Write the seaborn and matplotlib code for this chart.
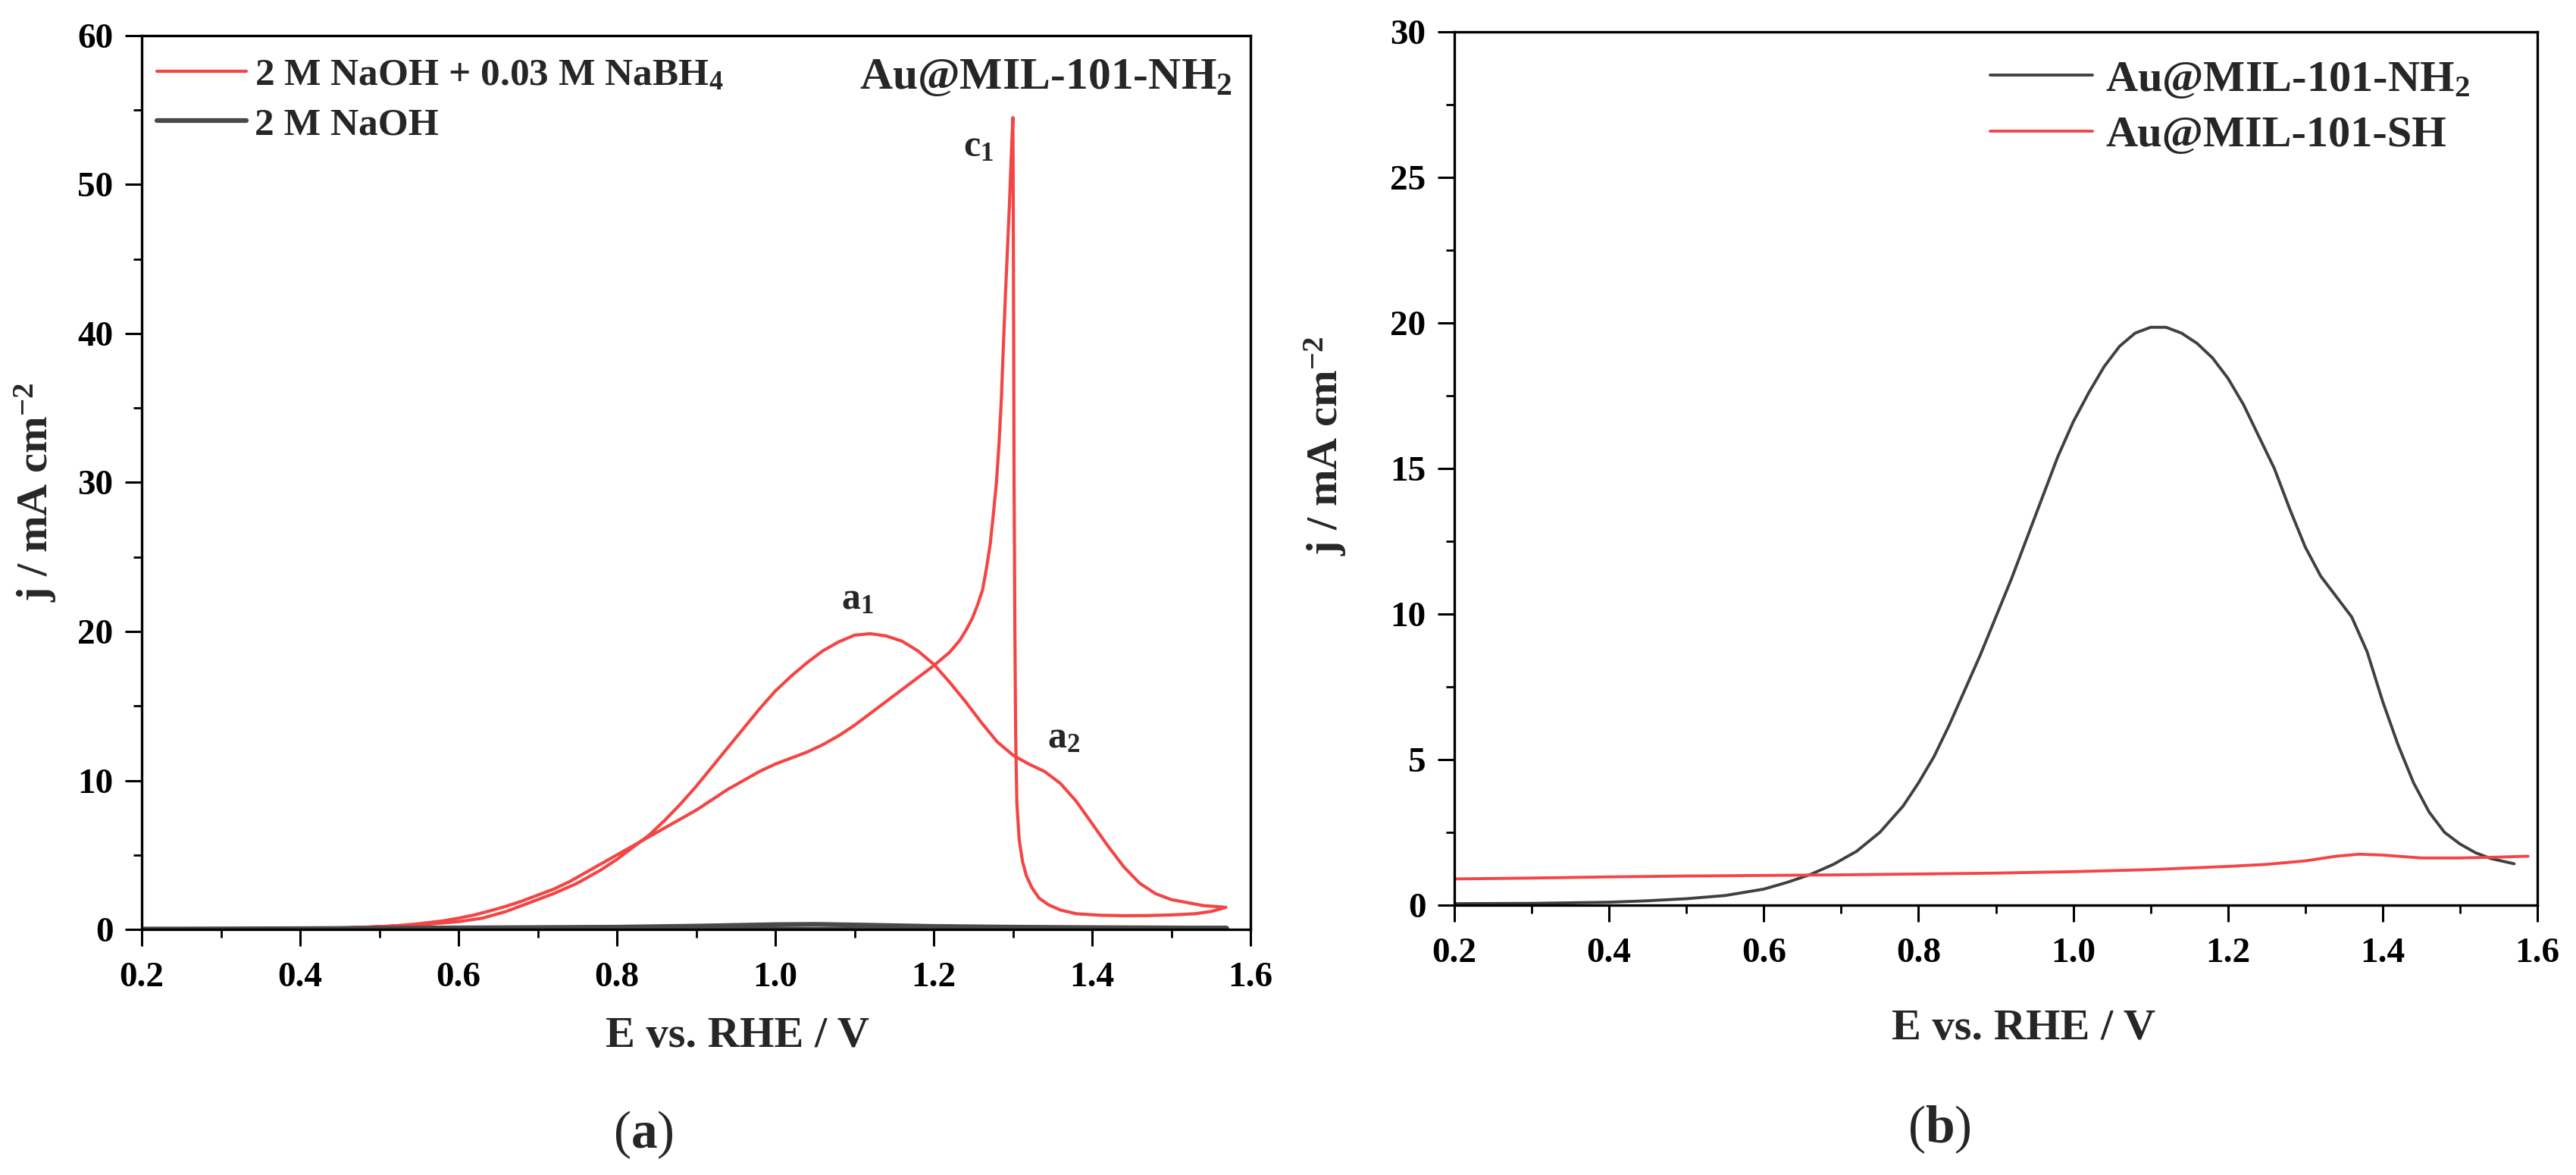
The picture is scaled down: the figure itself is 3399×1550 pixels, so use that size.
import numpy as np
import pandas as pd
import seaborn as sns
import matplotlib.pyplot as plt
from matplotlib.ticker import AutoMinorLocator, MultipleLocator

# (a) CV of Au@MIL-101-NH2 in 2 M NaOH + 0.03 M NaBH4, forward then reverse scan
E_fwd = [0.2, 0.3, 0.4, 0.45, 0.5, 0.55, 0.6, 0.63, 0.66, 0.69, 0.72, 0.75, 0.78, 0.80, 0.82,
         0.84, 0.86, 0.88, 0.90, 0.92, 0.94, 0.96, 0.98, 1.00, 1.02, 1.04, 1.06, 1.08, 1.10,
         1.12, 1.14, 1.16, 1.18, 1.20, 1.22, 1.24, 1.26, 1.28, 1.30, 1.32, 1.34, 1.36, 1.38,
         1.40, 1.42, 1.44, 1.46, 1.48, 1.50, 1.52, 1.54, 1.569]
j_fwd = [0.0, 0.02, 0.05, 0.1, 0.18, 0.3, 0.52, 0.75, 1.2, 1.8, 2.4, 3.1, 4.0, 4.7, 5.5,
         6.3, 7.3, 8.4, 9.6, 10.9, 12.2, 13.5, 14.8, 16.0, 17.0, 17.9, 18.7, 19.3, 19.75,
         19.85, 19.7, 19.35, 18.7, 17.8, 16.6, 15.3, 13.9, 12.6, 11.7, 11.1, 10.6, 9.8, 8.6,
         7.1, 5.6, 4.2, 3.1, 2.4, 2.0, 1.8, 1.6, 1.48]
E_rev = [1.55, 1.53, 1.50, 1.47, 1.44, 1.41, 1.38, 1.36, 1.345, 1.333, 1.324, 1.317, 1.312,
         1.308, 1.305, 1.3035, 1.3025, 1.3015, 1.301, 1.3005, 1.300, 1.298, 1.2955, 1.293,
         1.2905, 1.288, 1.2855, 1.2825, 1.2792, 1.275, 1.2712, 1.2665, 1.2617, 1.2555, 1.2489,
         1.241, 1.2329, 1.22, 1.20, 1.18, 1.16, 1.14, 1.12, 1.10, 1.08, 1.06, 1.04, 1.02,
         1.00, 0.98, 0.96, 0.94, 0.92, 0.90, 0.88, 0.86, 0.84, 0.82, 0.80, 0.78, 0.76, 0.74,
         0.72, 0.70, 0.68, 0.66, 0.64, 0.62, 0.60, 0.58, 0.55, 0.52, 0.48, 0.44, 0.4, 0.3, 0.2]
j_rev = [1.2, 1.05, 0.97, 0.93, 0.92, 0.95, 1.05, 1.3, 1.65, 2.1, 2.8, 3.6, 4.6,
         6.0, 8.5, 13.0, 20.0, 30.0, 40.0, 48.0, 54.5, 52.0, 48.5, 45.5,
         42.5, 39.2, 35.7, 32.6, 30.0, 27.7, 25.8, 24.2, 22.8, 21.8, 20.9,
         20.1, 19.4, 18.6, 17.7, 16.9, 16.1, 15.3, 14.5, 13.7, 13.0, 12.4, 11.9, 11.5,
         11.1, 10.6, 10.0, 9.4, 8.7, 8.0, 7.4, 6.8, 6.2, 5.6, 5.0, 4.4, 3.8, 3.2,
         2.7, 2.3, 1.9, 1.55, 1.25, 0.97, 0.75, 0.57, 0.38, 0.24, 0.13, 0.07, 0.04, 0.01, 0.0]

# (a) blank electrolyte 2 M NaOH
E_naoh = [0.2, 0.4, 0.6, 0.8, 0.9, 1.0, 1.05, 1.1, 1.2, 1.3, 1.4, 1.5, 1.57,
          1.5, 1.4, 1.2, 1.0, 0.8, 0.6, 0.4, 0.2]
j_naoh = [0.02, 0.05, 0.1, 0.15, 0.22, 0.32, 0.34, 0.3, 0.2, 0.15, 0.12, 0.1, 0.08,
          0.02, 0.0, -0.02, 0.0, 0.0, -0.02, -0.02, 0.0]

# (b) comparison of the two catalysts
E_nh2 = [0.2, 0.3, 0.4, 0.45, 0.5, 0.55, 0.6, 0.63, 0.66, 0.69, 0.72, 0.75, 0.78, 0.80,
         0.82, 0.84, 0.86, 0.88, 0.90, 0.92, 0.94, 0.96, 0.98, 1.00, 1.02, 1.04, 1.06, 1.08,
         1.10, 1.12, 1.14, 1.16, 1.18, 1.20, 1.22, 1.24, 1.26, 1.28, 1.30, 1.32, 1.34, 1.36,
         1.38, 1.40, 1.42, 1.44, 1.46, 1.48, 1.50, 1.52, 1.54, 1.57]
j_nh2 = [0.05, 0.06, 0.1, 0.15, 0.22, 0.33, 0.55, 0.78, 1.05, 1.4, 1.85, 2.5, 3.4, 4.2,
         5.1, 6.2, 7.4, 8.6, 9.9, 11.2, 12.6, 14.0, 15.4, 16.6, 17.6, 18.5, 19.2, 19.65,
         19.85, 19.85, 19.65, 19.3, 18.8, 18.1, 17.2, 16.1, 15.0, 13.6, 12.3, 11.3, 10.6, 9.9,
         8.7, 7.0, 5.5, 4.2, 3.2, 2.5, 2.1, 1.8, 1.6, 1.42]
E_sh = [0.2, 0.3, 0.4, 0.5, 0.6, 0.7, 0.8, 0.9, 1.0, 1.1, 1.2, 1.25, 1.3, 1.34, 1.37,
        1.4, 1.45, 1.5, 1.55, 1.588]
j_sh = [0.9, 0.93, 0.97, 1.0, 1.02, 1.04, 1.07, 1.1, 1.15, 1.22, 1.33, 1.4, 1.52, 1.68, 1.75,
        1.72, 1.62, 1.62, 1.65, 1.68]

RED = "#F44545"
GREY = "#4a4a4a"

sns.set_theme(style="ticks")
plt.rcParams["font.family"] = ["Liberation Serif", "DejaVu Serif"]
plt.rcParams["font.weight"] = "bold"
plt.rcParams["mathtext.fontset"] = "custom"
plt.rcParams["mathtext.rm"] = "Liberation Serif:bold"
plt.rcParams["mathtext.it"] = "Liberation Serif:italic:bold"
plt.rcParams["mathtext.bf"] = "Liberation Serif:bold"

fig = plt.figure(figsize=(33.99, 15.5), dpi=100)
ax_a = fig.add_axes([0.05502, 0.20903, 0.43042, 0.76065])
ax_b = fig.add_axes([0.56458, 0.22968, 0.42042, 0.74323])

cv = pd.DataFrame({"E": E_fwd + E_rev, "j": j_fwd + j_rev})
blank = pd.DataFrame({"E": E_naoh, "j": j_naoh})
sns.lineplot(data=cv, x="E", y="j", sort=False, estimator=None, color=RED, lw=3.0,
             ax=ax_a, label="2 M NaOH + 0.03 M NaBH$_4$")
sns.lineplot(data=blank, x="E", y="j", sort=False, estimator=None, color=GREY, lw=4.5,
             ax=ax_a, label="2 M NaOH")

nh2 = pd.DataFrame({"E": E_nh2, "j": j_nh2})
sh = pd.DataFrame({"E": E_sh, "j": j_sh})
sns.lineplot(data=nh2, x="E", y="j", sort=False, estimator=None, color="#404040", lw=2.8,
             ax=ax_b, label="Au@MIL-101-NH$_2$")
sns.lineplot(data=sh, x="E", y="j", sort=False, estimator=None, color=RED, lw=2.8,
             ax=ax_b, label="Au@MIL-101-SH")

for ax, ymax, ystep in [(ax_a, 60, 10), (ax_b, 30, 5)]:
    ax.set_xlim(0.2, 1.6)
    ax.set_ylim(0, ymax)
    ax.xaxis.set_major_locator(MultipleLocator(0.2))
    ax.yaxis.set_major_locator(MultipleLocator(ystep))
    ax.xaxis.set_minor_locator(AutoMinorLocator(2))
    ax.yaxis.set_minor_locator(AutoMinorLocator(2))
    ax.tick_params(which="major", direction="out", length=16, width=2.2, labelsize=34,
                   color="black", labelcolor="black")
    ax.tick_params(axis="x", which="major", pad=15)
    ax.tick_params(axis="y", which="major", pad=11)
    ax.tick_params(which="minor", direction="out", length=8, width=2.0, color="black")
    for s in ax.spines.values():
        s.set_linewidth(2.4)
        s.set_color("black")
    ax.set_xlabel("E vs. RHE / V", fontsize=42, fontweight="bold", va="center")
    ax.set_ylabel("j / mA cm$^{-2}$", fontsize=42, fontweight="bold", va="center")

ax_a.xaxis.set_label_coords(0.537, -0.120)
ax_a.yaxis.set_label_coords(-0.096, 0.489)
ax_b.xaxis.set_label_coords(0.5255, -0.1415)
ax_b.yaxis.set_label_coords(-0.119, 0.526)

ax_a.legend(loc="upper left", bbox_to_anchor=(0.0137, 0.975), frameon=False, fontsize=37,
            handlelength=2.3, handletextpad=0.2, labelspacing=0.35, borderpad=0,
            borderaxespad=0)
ax_b.legend(loc="upper left", bbox_to_anchor=(0.495, 0.968), frameon=False, fontsize=42,
            handlelength=2.3, handletextpad=0.3, labelspacing=0.35, borderpad=0,
            borderaxespad=0)

ax_a.text(0.9836, 0.9406, "Au@MIL-101-NH$_2$", transform=ax_a.transAxes, ha="right",
          va="baseline", fontsize=43, fontweight="bold")
ax_a.text(1.257, 51.9, "c$_1$", ha="center", va="baseline", fontsize=36, fontweight="bold")
ax_a.text(1.104, 21.5, "a$_1$", ha="center", va="baseline", fontsize=36, fontweight="bold")
ax_a.text(1.364, 12.2, "a$_2$", ha="center", va="baseline", fontsize=36, fontweight="bold")

fig.text(0.2498, 0.0342, r"($\mathbf{a}$)", ha="center", va="center", fontsize=50,
         fontweight="normal")
fig.text(0.7529, 0.0387, r"($\mathbf{b}$)", ha="center", va="center", fontsize=50,
         fontweight="normal")

fig.savefig("out.png", dpi=100, facecolor="white")
